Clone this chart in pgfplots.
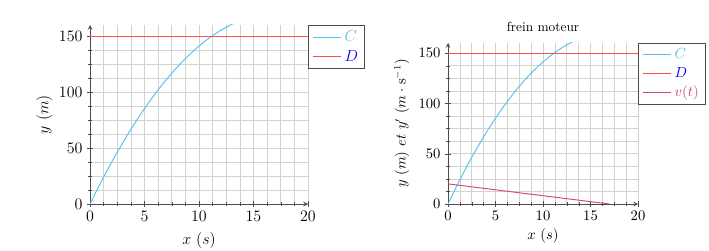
\documentclass[border=0pt]{standalone}
\usepackage{pgfplots}
\pgfplotsset{compat=1.18}
\definecolor{colC}{RGB}{80,195,235}
\definecolor{colD}{RGB}{250,80,80}
\definecolor{colV}{RGB}{205,70,130}
\pgfplotstableread{
t y
0 0
0.5 9.853
1 19.412
1.5 28.676
2 37.647
2.5 46.324
3 54.706
3.5 62.794
4 70.588
4.5 78.088
5 85.294
5.5 92.206
6 98.824
6.5 105.147
7 111.176
7.5 116.912
8 122.353
8.5 127.5
9 132.353
9.5 136.912
10 141.176
10.5 145.147
11 148.824
11.5 152.206
12 155.294
12.5 158.088
13 160.588
13.5 162.794
}\courbeC
\pgfplotsset{
  common/.style={
    scale only axis,
    axis lines=left,
    axis line style={black!70, semithick},
    xmin=0, xmax=20, ymin=0, ymax=160,
    xtick={0,5,10,15,20}, ytick={0,50,100,150},
    minor x tick num=3, minor y tick num=3,
    grid=both,
    major grid style={gray!35, thin},
    minor grid style={gray!35, thin},
    tick style={black!70},
    legend cell align=left,
    legend style={at={(1,1)}, anchor=north west, draw=black!70, semithick,
      inner xsep=3pt, inner ysep=2pt, row sep=1pt},
    legend image code/.code={\draw[#1] (0cm,0cm) -- (0.75cm,0cm);},
  }
}
\begin{document}
\begin{tikzpicture}
\path[use as bounding box] (0,0) rectangle (531.75pt,187.5pt);
\begin{axis}[common,
  at={(67.5pt,34.5pt)}, anchor=south west,
  width=163.5pt, height=134.25pt,
  font=\fontsize{11.5}{13}\selectfont,
  xlabel={$x~(s)$}, ylabel={$y~(m)$},
  xlabel style={yshift=-1pt},
  ylabel style={yshift=-2pt},
]
\addplot[color=colC, line width=0.7pt, no markers] table[x=t,y=y] {\courbeC};
\addlegendentry{\textcolor{colC}{$C$}}
\addplot[color=colD, line width=0.75pt, no markers] coordinates {(0,150) (20,150)};
\addlegendentry{\textcolor{blue}{$D$}}
\end{axis}
\begin{axis}[common,
  at={(336pt,34.5pt)}, anchor=south west,
  width=142.5pt, height=120.75pt,
  font=\fontsize{10.5}{12}\selectfont,
  title={\fontsize{10}{12}\selectfont frein moteur},
  title style={yshift=-1pt},
  xlabel={$x~(s)$}, ylabel={$y~(m)~et~y'~(m\cdot\mathrm{s}^{-1})$},
  xlabel style={yshift=1pt},
]
\addplot[color=colC, line width=0.7pt, no markers] table[x=t,y=y] {\courbeC};
\addlegendentry{\textcolor{colC}{$C$}}
\addplot[color=colD, line width=0.75pt, no markers] coordinates {(0,150) (20,150)};
\addlegendentry{\textcolor{blue}{$D$}}
\addplot[color=colV, line width=0.7pt, no markers] coordinates {(0,20) (17,0)};
\addlegendentry{\textcolor{colV}{$v(t)$}}
\end{axis}
\end{tikzpicture}
\end{document}
